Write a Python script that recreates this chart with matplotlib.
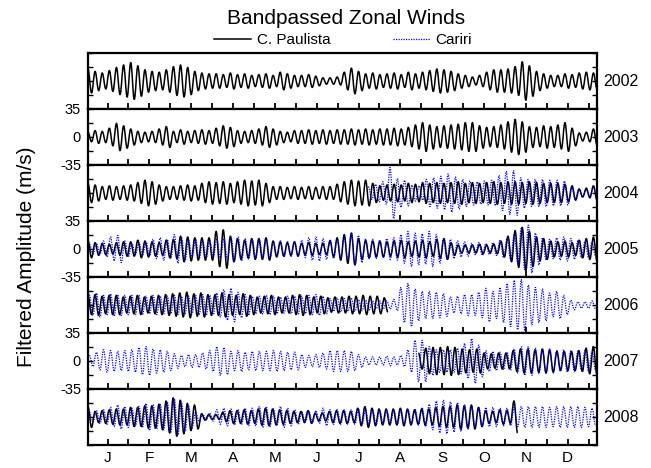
import numpy as np
import matplotlib.pyplot as plt
from matplotlib.path import Path
from matplotlib.patches import PathPatch

plt.rcParams['font.family'] = ['Liberation Sans', 'DejaVu Sans']

YEARS = [2002, 2003, 2004, 2005, 2006, 2007, 2008]
MONTHS = ['J', 'F', 'M', 'A', 'M', 'J', 'J', 'A', 'S', 'O', 'N', 'D']
LABELED_YEARS = [2003, 2005, 2007]

# amplitude (m/s) of successive oscillation cycles,
# six cycles per month (one row per month)
P2002 = [15, 12, 10, 13, 17, 20,
         23, 19, 14, 12, 11, 14,
         18, 20, 17, 12, 10, 9,
         9, 8, 10, 8, 9, 7,
         8, 9, 7, 11, 9, 7,
         7, 8, 6, 4, 4, 5,
         11, 16, 12, 9, 10, 8,
         9, 10, 8, 11, 9, 11,
         13, 15, 14, 12, 9, 7,
         5, 7, 11, 14, 14, 15,
         18, 24, 19, 12, 9, 7,
         7, 9, 8, 10, 11, 10]
P2003 = [6, 8, 7, 11, 17, 14,
         10, 7, 6, 7, 10, 13,
         7, 9, 7, 8, 9, 8,
         11, 14, 12, 8, 7, 8,
         10, 13, 10, 7, 6, 8,
         8, 9, 8, 9, 8, 9,
         9, 10, 9, 10, 9, 10,
         10, 11, 10, 12, 15, 18,
         15, 13, 14, 15, 16, 18,
         18, 14, 12, 13, 15, 19,
         22, 19, 13, 12, 14, 13,
         15, 18, 11, 5, 6, 10]
P2004 = [12, 10, 8, 9, 8, 9,
         10, 13, 16, 14, 10, 8,
         8, 9, 10, 9, 12, 14,
         13, 14, 12, 14, 16, 15,
         16, 12, 8, 8, 7, 8,
         7, 8, 7, 8, 8, 11,
         14, 16, 15, 16, 12, 9,
         10, 11, 10, 12, 11, 13,
         12, 13, 12, 13, 14, 12,
         13, 12, 13, 14, 13, 14,
         14, 13, 14, 13, 12, 12,
         12, 11, 9, 5, 6, 9]
P2005 = [11, 8, 7, 6, 8, 9,
         9, 11, 10, 9, 8, 11,
         12, 16, 15, 14, 14, 14,
         22, 24, 16, 13, 11, 13,
         13, 14, 10, 9, 8, 9,
         7, 8, 7, 7, 10, 14,
         18, 20, 13, 11, 10, 10,
         9, 10, 11, 9, 10, 11,
         9, 12, 13, 8, 5, 5,
         5, 6, 5, 6, 10, 16,
         23, 27, 22, 15, 13, 10,
         9, 10, 8, 11, 13, 15]
P2006 = [12, 13, 11, 12, 12, 10,
         11, 12, 10, 11, 12, 13,
         14, 15, 16, 14, 15, 13,
         13, 15, 13, 12, 14, 12,
         10, 11, 12, 10, 10, 12,
         13, 12, 10, 11, 9, 10,
         10, 11, 11, 12, 11, 11,
         9]
P2007 = [10,
         16, 17, 17, 18, 17, 15,
         14, 15, 10, 9, 10, 10,
         13, 15, 15, 14, 15, 14,
         12, 12, 12, 13, 16, 18]
P2008 = [13, 7, 8, 9, 10, 10,
         12, 12, 14, 14, 16, 20,
         24, 21, 17, 15, 4, 3,
         3, 6, 8, 8, 9, 8,
         10, 11, 10, 9, 8, 7,
         7, 8, 5, 5, 7, 8,
         8, 7, 11, 13, 11, 10,
         10, 10, 11, 10, 9, 10,
         10, 12, 13, 13, 15, 14,
         15, 12, 8, 7, 9, 8,
         20]

C2004 = [8, 11,
         14, 32, 18, 16, 10, 9,
         17, 19, 21, 24, 20, 17,
         15, 14, 15, 16, 22, 27,
         28, 19, 17, 17, 17, 16,
         16, 15, 8, 5, 4, 7]
C2005 = [6, 7, 10, 15, 17, 10,
         7, 8, 9, 12, 14, 12,
         18, 15, 11, 12, 11, 10,
         13, 13, 15, 15, 13, 12,
         11, 12, 9, 10, 9, 9,
         11, 14, 15, 13, 12, 11,
         14, 20, 17, 12, 12, 11,
         13, 14, 18, 22, 20, 19,
         22, 18, 13, 12, 10, 9,
         7, 8, 7, 8, 11, 14,
         18, 26, 30, 20, 14, 12,
         14, 15, 13, 11, 10, 9]
C2006 = [13, 15, 12, 14, 13, 12,
         12, 12, 11, 12, 11, 11,
         12, 11, 11, 12, 13, 12,
         15, 19, 21, 16, 13, 11,
         11, 12, 11, 10, 11, 11,
         11, 12, 13, 11, 8, 9,
         8, 8, 7, 6, 5, 5,
         5, 7, 22, 27, 20, 17,
         17, 16, 14, 10, 11, 13,
         13, 16, 21, 17, 22, 27,
         31, 32, 25, 22, 20, 15,
         17, 12, 6, 4, 4, 5]
C2007 = [7, 11, 14, 13, 12, 13,
         14, 17, 18, 15, 14, 12,
         9, 7, 8, 8, 10, 13,
         18, 17, 12, 13, 11, 12,
         12, 12, 13, 12, 11, 11,
         8, 7, 8, 10, 13, 13,
         13, 12, 8, 5, 5, 5,
         6, 5, 7, 14, 26, 26,
         18, 14, 14, 14, 16, 22,
         28, 20, 13, 12, 11, 11,
         15, 18, 18, 16, 15, 15,
         13, 14, 13, 12, 13, 12]
C2008 = [6, 8, 9, 12, 15, 13,
         11, 13, 17, 15, 16, 19,
         23, 18, 14, 6, 4, 5,
         9, 11, 10, 9, 11, 11,
         13, 12, 10, 13, 11, 9,
         6, 7, 8, 11, 9, 9,
         9, 9, 10, 9, 9, 8,
         8, 9, 8, 9, 10, 12,
         16, 20, 21, 19, 18, 15,
         13, 12, 12, 12, 11, 11,
         12, 13, 13, 13, 13, 12,
         13, 13, 13, 13, 12, 11]

PAULISTA = [P2002, P2003, P2004, P2005, P2006, P2007, P2008]
CARIRI = [None, None, C2004, C2005, C2006, C2007, C2008]
# day-of-year span covered by each record
PAULISTA_START = [1, 1, 1, 1, 1, 238, 1]
PAULISTA_END = [366, 366, 366, 366, 216, 366, 309]
CARIRI_START = [None, None, 202, 2, 2, 2, 2]
CARIRI_END = [None, None, 366, 365, 365, 365, 365]

BLUE = '#0000ff'


def wave_path(amps, start, end):
    # each cycle is a crest followed by a trough, joined by bezier arcs
    # with flat tangents at the extrema so the trace looks like a wave
    amps = np.repeat(np.asarray(amps, dtype=float), 2)
    days = np.linspace(start, end, len(amps))
    vals = amps * np.where(np.arange(len(amps)) % 2 == 0, 1.0, -1.0)
    k = 0.36 * (days[1] - days[0])
    verts = [(days[0], vals[0])]
    codes = [Path.MOVETO]
    for i in range(len(days) - 1):
        verts += [(days[i] + k, vals[i]), (days[i+1] - k, vals[i+1]), (days[i+1], vals[i+1])]
        codes += [Path.CURVE4] * 3
    return Path(verts, codes)


def main():
    fig, axes = plt.subplots(len(YEARS), 1, sharex=True, figsize=(6.51, 4.68), dpi=100)
    fig.subplots_adjust(left=88/651, right=597/651, top=1-53/468, bottom=1-445/468, hspace=0)

    for i, ax in enumerate(axes):
        path = wave_path(PAULISTA[i], PAULISTA_START[i], PAULISTA_END[i])
        ax.add_patch(PathPatch(path, fill=False, edgecolor='black', lw=1.1,
                               joinstyle='round'))
        if CARIRI[i] is not None:
            path = wave_path(CARIRI[i], CARIRI_START[i], CARIRI_END[i])
            ax.add_patch(PathPatch(path, fill=False, edgecolor=BLUE, lw=0.9,
                                   ls=(0, (1, 1))))
        ax.set_ylim(-35, 35)
        ax.set_xlim(1, 366)
        ax.set_yticks([-35, 0, 35])
        ax.set_yticks([-17.5, 17.5], minor=True)
        if YEARS[i] in LABELED_YEARS:
            ax.set_yticklabels(['-35', '0', '35'])
        else:
            ax.set_yticklabels([])
        ax.set_xticks(np.arange(15, 366, 30))
        ax.set_xticks(np.arange(30, 366, 30), minor=True)
        ax.tick_params(axis='x', which='both', direction='in', length=4.5, width=1.3,
                       top=False, bottom=True, labelsize=11, pad=4)
        ax.tick_params(axis='y', which='both', direction='in', length=3.5, width=1.0,
                       left=True, right=True, labelsize=10.5, pad=5)
        for s in ax.spines.values():
            s.set_linewidth(1.6)
        ax.text(1.012, 0.5, str(YEARS[i]), transform=ax.transAxes,
                ha='left', va='center', fontsize=11.5)

    axes[-1].set_xticklabels(MONTHS)

    fig.text(0.531, 1-18/468, 'Bandpassed Zonal Winds', ha='center', va='center', fontsize=15)
    fig.text(0.04, 1-257/468, 'Filtered Amplitude (m/s)', rotation=90,
             ha='center', va='center', fontsize=15)

    h1, = axes[0].plot([], [], color='black', lw=1.1)
    h2, = axes[0].plot([], [], color=BLUE, lw=0.9, ls=(0, (1, 1)))
    fig.legend([h1, h2], ['C. Paulista', 'Cariri'], loc='center',
               bbox_to_anchor=(343/651, 1-40/468), ncol=2, frameon=False,
               fontsize=11, handlelength=2.4, handletextpad=0.4, columnspacing=4.1)

    plt.savefig('out.png', dpi=100)


if __name__ == "__main__":
    main()
